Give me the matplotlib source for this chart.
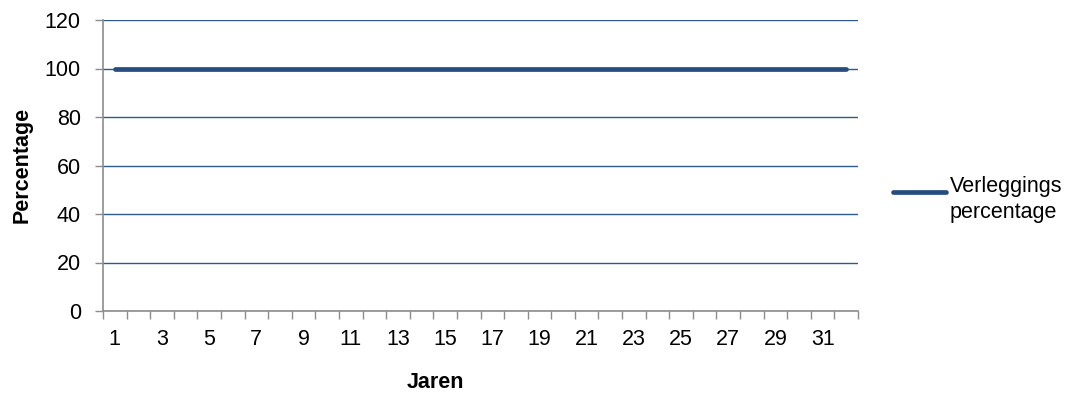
import matplotlib.pyplot as plt
import numpy as np

plt.rcParams['font.family'] = ['Liberation Sans', 'DejaVu Sans']

jaren = list(range(1, 33))
percentage = [100] * 32
series_label = 'Verleggings\npercentage'
y_ticks = [0, 20, 40, 60, 80, 100, 120]

line_color = '#254E7E'
grid_color = '#2F5A8F'
axis_color = '#8C8C8C'
fs = 15.5

fig = plt.figure(figsize=(10.89, 4.0), dpi=100)
ax = fig.add_axes([103 / 1089, 1 - 311 / 400, (858 - 103) / 1089, (311 - 20) / 400])

x = np.arange(len(jaren))
ax.plot(x, percentage, color=line_color, linewidth=3.4, solid_capstyle='round',
        label=series_label, zorder=3)

ax.set_xlim(-0.5, len(jaren) - 0.5)
ax.set_ylim(0, 120)

# y axis: gridlines at every tick
ax.set_yticks(y_ticks)
ax.yaxis.grid(True, color=grid_color, linewidth=1.0)
ax.set_axisbelow(True)
ax.tick_params(axis='y', length=6, width=1, color=axis_color, pad=10, labelsize=fs)

# x axis: labels on every other category, tick marks between categories
ax.set_xticks(x[::2])
ax.set_xticklabels([str(j) for j in jaren[::2]])
ax.set_xticks(np.arange(len(jaren) + 1) - 0.5, minor=True)
ax.tick_params(axis='x', which='major', length=0, pad=13, labelsize=fs)
ax.tick_params(axis='x', which='minor', length=6, width=1, color=axis_color)

for side in ['top', 'right']:
    ax.spines[side].set_visible(False)
for side in ['left', 'bottom']:
    ax.spines[side].set_color(axis_color)
    ax.spines[side].set_linewidth(1.2)

fig.text(22 / 1089, 1 - 165 / 400, 'Percentage', rotation=90, ha='center', va='center',
         fontsize=fs, fontweight='bold')
fig.text(435 / 1089, 1 - 383 / 400, 'Jaren', ha='center', va='center',
         fontsize=fs, fontweight='bold')

leg = fig.legend(loc='upper left', bbox_to_anchor=(893 / 1089, 1 - 176 / 400), frameon=False,
                 fontsize=fs, handlelength=2.45, handleheight=3.0, handletextpad=0.2,
                 borderaxespad=0, borderpad=0)
leg.texts[0].set_linespacing(1.3)

fig.savefig('out.png', dpi=100)
